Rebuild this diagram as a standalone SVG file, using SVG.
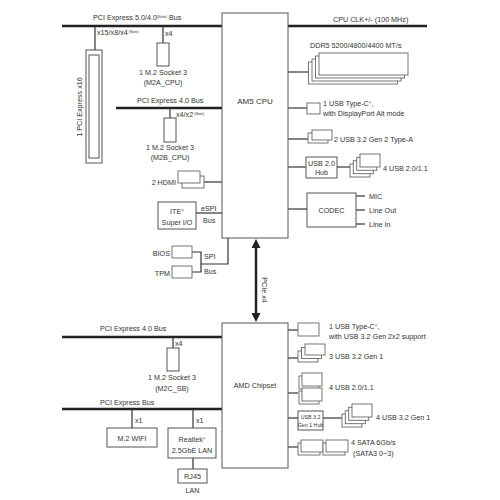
<svg xmlns="http://www.w3.org/2000/svg" width="500" height="500" viewBox="0 0 500 500">
<style>
.t{font-family:"Liberation Sans",Arial,sans-serif;font-size:7.2px;fill:#333}
.m{text-anchor:middle}
.e{text-anchor:end}
.s{font-size:3.6px}
.bus{stroke:#222;stroke-width:2.5;fill:none}
.ln{stroke:#333;stroke-width:1.2;fill:none}
.box{fill:#fff;stroke:#555;stroke-width:1}
.pt{fill:#fff;stroke:#666;stroke-width:0.9}
</style>
<defs>
<marker id="arr" viewBox="0 0 10 10" refX="0" refY="5" markerWidth="9" markerHeight="9" markerUnits="userSpaceOnUse" orient="auto-start-reverse"><path d="M0,0 L10,5 L0,10 z" fill="#222"/></marker>
</defs>
<rect width="500" height="500" fill="#fff"/>

<g id="connectors">
<line class="bus" x1="62" y1="26" x2="222" y2="26"/>
<line class="bus" x1="288" y1="26" x2="427" y2="26"/>
<line class="bus" x1="116" y1="108" x2="222" y2="108"/>
<line class="bus" x1="62" y1="337" x2="222" y2="337"/>
<line class="bus" x1="62" y1="409" x2="222" y2="409"/>
<line class="ln" x1="95" y1="26" x2="95" y2="50"/>
<line class="ln" x1="163" y1="26" x2="163" y2="43"/>
<line class="ln" x1="170" y1="108" x2="170" y2="118"/>
<line class="ln" x1="204" y1="182" x2="222" y2="182"/>
<line class="ln" x1="196" y1="213" x2="222" y2="213"/>
<polyline class="ln" points="192,252 201,252 201,272 192,272"/>
<polyline class="ln" points="201,264 228,264 228,238"/>
<line class="bus" x1="256" y1="248" x2="256" y2="313" marker-start="url(#arr)" marker-end="url(#arr)"/>
<line class="ln" x1="288" y1="72" x2="308" y2="72"/>
<line class="ln" x1="288" y1="108" x2="307" y2="108"/>
<line class="ln" x1="288" y1="139" x2="308" y2="139"/>
<line class="ln" x1="288" y1="167" x2="306" y2="167"/>
<line class="ln" x1="337" y1="167" x2="350" y2="167"/>
<line class="ln" x1="288" y1="209" x2="307" y2="209"/>
<line class="ln" x1="356" y1="196" x2="365" y2="196"/>
<line class="ln" x1="356" y1="210" x2="365" y2="210"/>
<line class="ln" x1="356" y1="224" x2="365" y2="224"/>
<line class="ln" x1="173" y1="337" x2="173" y2="348"/>
<line class="ln" x1="132" y1="409" x2="132" y2="428"/>
<line class="ln" x1="193" y1="409" x2="193" y2="428"/>
<line class="ln" x1="193" y1="458" x2="193" y2="469"/>
<line class="ln" x1="288" y1="330" x2="298" y2="330"/>
<line class="ln" x1="288" y1="358" x2="298" y2="358"/>
<line class="ln" x1="288" y1="393" x2="298" y2="393"/>
<line class="ln" x1="288" y1="418" x2="298" y2="418"/>
<line class="ln" x1="323" y1="418" x2="342" y2="418"/>
<line class="ln" x1="288" y1="447" x2="298" y2="447"/>
</g>

<g id="cpu"><rect class="box" x="222" y="13" width="66" height="225"/><text class="t m" x="255" y="104" style="font-size:8px">AM5 CPU</text></g>
<g id="pcie5bus"><text class="t" x="93" y="20">PCI Express 5.0/4.0<tspan class="s" dy="-2.5">(Note)</tspan><tspan dy="2.5"> Bus</tspan></text></g>
<g id="cpuclk"><text class="t" x="333" y="22">CPU CLK+/- (100 MHz)</text></g>
<g id="pcie16">
<rect class="box" x="86" y="50" width="16" height="113"/>
<rect class="box" x="89" y="55" width="10" height="103"/>
<text class="t" x="97" y="35">x15/x8/x4<tspan class="s" dy="-2.5"> (Note)</tspan></text>
<text class="t m" transform="translate(82,107) rotate(-90)">1 PCI Express x16</text>
</g>
<g id="m2a">
<rect class="box" x="157" y="43" width="12" height="23"/>
<text class="t" x="165" y="36">x4</text>
<text class="t m" x="163" y="75">1 M.2 Socket 3</text>
<text class="t m" x="163" y="85">(M2A_CPU)</text>
</g>
<g id="pcie4bus"><text class="t" x="137" y="103">PCI Express 4.0 Bus</text></g>
<g id="m2b">
<rect class="box" x="164" y="118" width="12" height="24"/>
<text class="t" x="176" y="117">x4/x2<tspan class="s" dy="-2.5"> (Note)</tspan></text>
<text class="t m" x="170" y="150">1 M.2 Socket 3</text>
<text class="t m" x="170" y="160">(M2B_CPU)</text>
</g>
<g id="hdmi">
<rect class="pt" x="182" y="176" width="22" height="12"/>
<rect class="pt" x="178" y="171" width="22" height="12"/>
<text class="t e" x="176" y="185">2 HDMI</text>
</g>
<g id="superio">
<rect class="box" x="158" y="202" width="38" height="27"/>
<text class="t m" x="177" y="214">ITE<tspan class="s" dy="-2.5">®</tspan></text>
<text class="t m" x="177" y="225">Super I/O</text>
<text class="t" x="201" y="211">eSPI</text>
<text class="t" x="203" y="223">Bus</text>
</g>
<g id="bios"><rect class="pt" x="172" y="246" width="20" height="12"/><text class="t e" x="170" y="256">BIOS</text></g>
<g id="tpm"><rect class="pt" x="172" y="266" width="20" height="12"/><text class="t e" x="170" y="276">TPM</text>
<text class="t" x="204" y="259">SPI</text><text class="t" x="204" y="274">Bus</text></g>
<g id="pciex4"><text class="t m" transform="translate(262,290) rotate(90)">PCIe x4</text></g>

<g id="ddr">
<rect class="pt" x="308.5" y="62" width="89" height="22"/>
<rect class="pt" x="312" y="59" width="89" height="22"/>
<rect class="pt" x="315.5" y="56" width="89" height="22"/>
<rect class="pt" x="319" y="53" width="89" height="22"/>
<text class="t" x="310" y="48">DDR5 5200/4800/4400 MT/s</text>
</g>
<g id="typec-dp">
<rect class="pt" x="307" y="103" width="13" height="11"/>
<text class="t" x="323" y="106">1 USB Type-C<tspan class="s" dy="-2.5">®</tspan><tspan dy="2.5">,</tspan></text>
<text class="t" x="323" y="116">with DisplayPort Alt mode</text>
</g>
<g id="usb32g2">
<rect class="pt" x="308" y="133" width="20" height="10"/>
<rect class="pt" x="312" y="130" width="20" height="10"/>
<text class="t" x="334" y="142">2 USB 3.2 Gen 2 Type-A</text>
</g>
<g id="usb2hub">
<rect class="box" x="306" y="157" width="31" height="21"/>
<text class="t m" x="321.5" y="165.5">USB 2.0</text>
<text class="t m" x="321.5" y="175">Hub</text>
</g>
<g id="usb2ports">
<rect class="pt" x="350" y="164" width="20" height="13"/>
<rect class="pt" x="353.3" y="160.7" width="20" height="13"/>
<rect class="pt" x="356.7" y="157.3" width="20" height="13"/>
<rect class="pt" x="360" y="154" width="20" height="13"/>
<text class="t" x="383" y="171">4 USB 2.0/1.1</text>
</g>
<g id="codec">
<rect class="box" x="307" y="193" width="49" height="34"/>
<text class="t m" x="331.5" y="213">CODEC</text>
<text class="t" x="369" y="199">MIC</text>
<text class="t" x="369" y="213">Line Out</text>
<text class="t" x="369" y="227">Line In</text>
</g>

<g id="chipset"><rect class="box" x="222" y="323" width="66" height="145"/><text class="t m" x="255" y="388">AMD Chipset</text></g>
<g id="pcie4bus2"><text class="t" x="100" y="331">PCI Express 4.0 Bus</text></g>
<g id="m2c">
<rect class="box" x="167" y="348" width="12" height="23"/>
<text class="t" x="175" y="346">x4</text>
<text class="t m" x="172" y="380">1 M.2 Socket 3</text>
<text class="t m" x="172" y="391">(M2C_SB)</text>
</g>
<g id="pciebus"><text class="t" x="100" y="405">PCI Express Bus</text></g>
<g id="wifi">
<rect class="box" x="107" y="428" width="50" height="19"/>
<text class="t" x="135" y="423">x1</text>
<text class="t m" x="132" y="440.5">M.2 WIFI</text>
</g>
<g id="lan">
<rect class="box" x="168" y="428" width="48" height="30"/>
<text class="t" x="196" y="423">x1</text>
<text class="t m" x="192" y="442">Realtek<tspan class="s" dy="-2.5">®</tspan></text>
<text class="t m" x="192" y="453">2.5GbE LAN</text>
</g>
<g id="rj45">
<rect class="box" x="178" y="469" width="29" height="14"/>
<text class="t m" x="192.5" y="479">RJ45</text>
<text class="t m" x="192.5" y="493">LAN</text>
</g>
<g id="typec-2x2">
<rect class="pt" x="298" y="323" width="21" height="13"/>
<text class="t" x="329" y="329">1 USB Type-C<tspan class="s" dy="-2.5">®</tspan><tspan dy="2.5">,</tspan></text>
<text class="t" x="329" y="339">with USB 3.2 Gen 2x2 support</text>
</g>
<g id="usb32g1">
<rect class="pt" x="298" y="351" width="20" height="11"/>
<rect class="pt" x="301.5" y="347.5" width="20" height="11"/>
<rect class="pt" x="305" y="344" width="20" height="11"/>
<text class="t" x="329" y="359">3 USB 3.2 Gen 1</text>
</g>
<g id="usb2cs">
<rect class="pt" x="299" y="376" width="20" height="13"/>
<rect class="pt" x="302" y="373" width="20" height="13"/>
<rect class="pt" x="299" y="391" width="20" height="13"/>
<rect class="pt" x="302" y="388" width="20" height="13"/>
<text class="t" x="329" y="390">4 USB 2.0/1.1</text>
</g>
<g id="usb32hub">
<rect class="box" x="298" y="411" width="25" height="19"/>
<text class="t m" x="310.5" y="419" style="font-size:5.3px">USB 3.2</text>
<text class="t m" x="310.5" y="427" style="font-size:5.3px">Gen 1 Hub</text>
</g>
<g id="usb32ports">
<rect class="pt" x="342" y="414" width="20" height="13"/>
<rect class="pt" x="345.3" y="410.7" width="20" height="13"/>
<rect class="pt" x="348.7" y="407.3" width="20" height="13"/>
<rect class="pt" x="352" y="404" width="20" height="13"/>
<text class="t" x="376" y="420">4 USB 3.2 Gen 1</text>
</g>
<g id="sata">
<rect class="pt" x="298" y="443" width="22" height="12"/>
<rect class="pt" x="301" y="440" width="22" height="12"/>
<rect class="pt" x="323" y="443" width="22" height="12"/>
<rect class="pt" x="326" y="440" width="22" height="12"/>
<text class="t" x="351" y="445">4 SATA 6Gb/s</text>
<text class="t" x="353" y="456">(SATA3 0~3)</text>
</g>
</svg>
